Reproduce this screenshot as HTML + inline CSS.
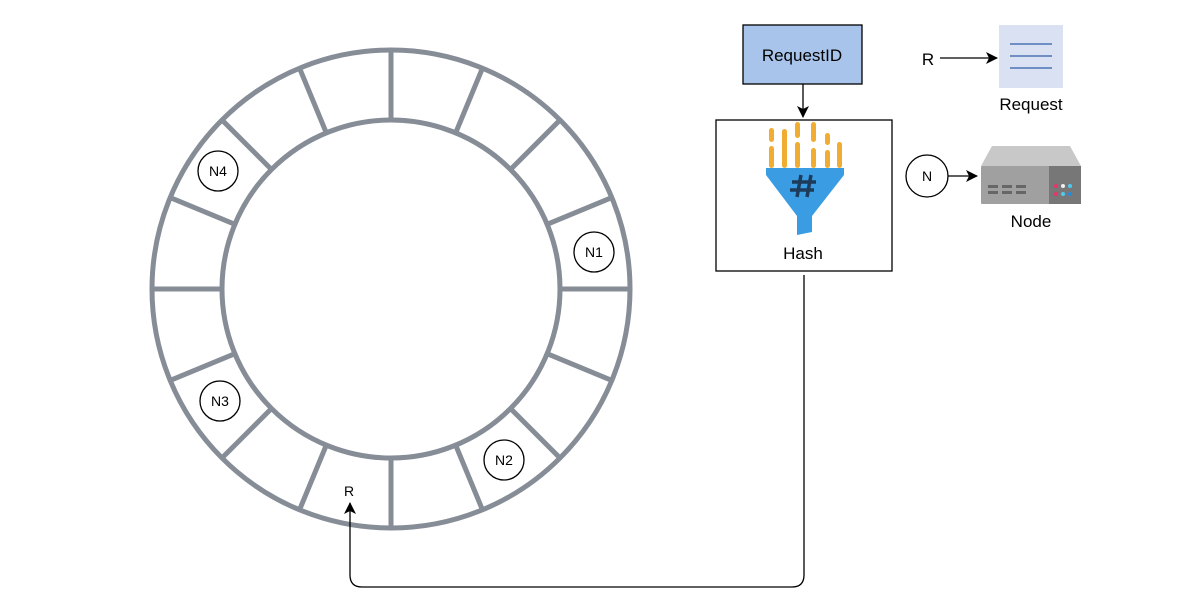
<!DOCTYPE html>
<html><head><meta charset="utf-8"><style>
body{margin:0;background:#fff;}
svg{display:block;font-family:"Liberation Sans",sans-serif;}
</style></head><body>
<svg width="1202" height="607" viewBox="0 0 1202 607">
<defs><marker id="ah" markerWidth="12" markerHeight="12" refX="11" refY="6" orient="auto" markerUnits="userSpaceOnUse"><path d="M0,0 L12,6 L0,12 L3,6 Z" fill="#000"/></marker></defs>
<g id="ring" fill="none" stroke="#868d96" stroke-width="5"></g>
<g><circle cx="218" cy="171" r="20" fill="#fff" stroke="#000" stroke-width="1.3"/><text x="218" y="176" font-size="14" text-anchor="middle">N4</text></g>
<g><circle cx="594" cy="252" r="20" fill="#fff" stroke="#000" stroke-width="1.3"/><text x="594" y="257" font-size="14" text-anchor="middle">N1</text></g>
<g><circle cx="220" cy="401" r="20" fill="#fff" stroke="#000" stroke-width="1.3"/><text x="220" y="406" font-size="14" text-anchor="middle">N3</text></g>
<g><circle cx="504" cy="460" r="20" fill="#fff" stroke="#000" stroke-width="1.3"/><text x="504" y="465" font-size="14" text-anchor="middle">N2</text></g>
<text x="349" y="496" font-size="14" text-anchor="middle">R</text>
<path d="M804,275 V575 Q804,587 792,587 H362 Q350,587 350,575 V503" fill="none" stroke="#000" stroke-width="1.3" marker-end="url(#ah)"/>
<g><rect x="743" y="25" width="119" height="59" fill="#a9c4eb" stroke="#000" stroke-width="1.3"/><text x="802" y="61" font-size="17" text-anchor="middle">RequestID</text></g>
<line x1="803" y1="84" x2="803" y2="117" stroke="#000" stroke-width="1.3" marker-end="url(#ah)"/>
<g><rect x="716" y="120" width="176" height="151" fill="#fff" stroke="#000" stroke-width="1.3"/>
<g fill="#f0ad32">
<rect x="769" y="128" width="5" height="14" rx="2.5"/><rect x="769" y="146" width="5" height="22" rx="2.5"/>
<rect x="782" y="129" width="5" height="39" rx="2.5"/>
<rect x="795" y="122" width="5" height="16" rx="2.5"/><rect x="795" y="142" width="5" height="26" rx="2.5"/>
<rect x="811" y="122" width="5" height="20" rx="2.5"/><rect x="811" y="148" width="5" height="20" rx="2.5"/>
<rect x="825" y="133" width="5" height="12" rx="2.5"/><rect x="825" y="150" width="5" height="18" rx="2.5"/>
<rect x="837" y="142" width="5" height="26" rx="2.5"/></g>
<path d="M766,168 H844 V175 L812,216 V232 L797,235 V216 L766,175 Z" fill="#3a9de3"/>
<g stroke="#1d3b5a" stroke-width="3.5"><line x1="801" y1="175" x2="797" y2="197"/><line x1="811" y1="175" x2="807" y2="197"/><line x1="792" y1="182" x2="816" y2="182"/><line x1="790" y1="190" x2="814" y2="190"/></g>
<text x="803" y="259" font-size="17" text-anchor="middle">Hash</text></g>
<g><text x="928" y="65" font-size="17" text-anchor="middle">R</text>
<line x1="940" y1="58" x2="997" y2="58" stroke="#000" stroke-width="1.3" marker-end="url(#ah)"/>
<rect x="999" y="25" width="64" height="63" fill="#dae1f3"/>
<g stroke="#4a73b5" stroke-width="1.5"><line x1="1010" y1="44" x2="1052" y2="44"/><line x1="1010" y1="56" x2="1052" y2="56"/><line x1="1010" y1="68" x2="1052" y2="68"/></g>
<text x="1031" y="110" font-size="17" text-anchor="middle">Request</text></g>
<g><circle cx="927" cy="176" r="21" fill="#fff" stroke="#000" stroke-width="1.3"/><text x="927" y="181" font-size="14" text-anchor="middle">N</text>
<line x1="948" y1="176" x2="977" y2="176" stroke="#000" stroke-width="1.3" marker-end="url(#ah)"/>
<path d="M992,146 H1070 L1081,166 V204 H981 V166 Z" fill="#c8c8c8"/>
<rect x="981" y="166" width="100" height="38" fill="#a0a0a0" rx="2"/>
<rect x="1049" y="166" width="32" height="38" fill="#777"/>
<g fill="#666"><rect x="988" y="185" width="10" height="3"/><rect x="1002" y="185" width="10" height="3"/><rect x="1016" y="185" width="10" height="3"/><rect x="988" y="191" width="10" height="3"/><rect x="1002" y="191" width="10" height="3"/><rect x="1016" y="191" width="10" height="3"/></g>
<circle cx="1056" cy="186" r="2" fill="#e8336b"/><circle cx="1063" cy="186" r="2" fill="#eee"/><circle cx="1070" cy="186" r="2" fill="#50c8f0"/>
<circle cx="1056" cy="194" r="2" fill="#e8336b"/><circle cx="1063" cy="194" r="2" fill="#50c8f0"/><circle cx="1070" cy="194" r="2" fill="#2a8ad8"/>
<text x="1031" y="227" font-size="17" text-anchor="middle">Node</text></g>
</svg>
<script>
const segments = 16;
const cx = 391, cy = 289, rOut = 239, rIn = 169;
const g = document.getElementById('ring');
const ns = 'http://www.w3.org/2000/svg';
for (const r of [rOut, rIn]) {
  const c = document.createElementNS(ns, 'circle');
  c.setAttribute('cx', cx); c.setAttribute('cy', cy); c.setAttribute('r', r);
  
  
  g.appendChild(c);
}
for (let i = 0; i < segments; i++) {
  const a = i * 2 * Math.PI / segments;
  const l = document.createElementNS(ns, 'line');
  l.setAttribute('x1', cx + rIn * Math.sin(a)); l.setAttribute('y1', cy - rIn * Math.cos(a));
  l.setAttribute('x2', cx + rOut * Math.sin(a)); l.setAttribute('y2', cy - rOut * Math.cos(a));
  
  
  g.appendChild(l);
}
</script>
</body></html>
